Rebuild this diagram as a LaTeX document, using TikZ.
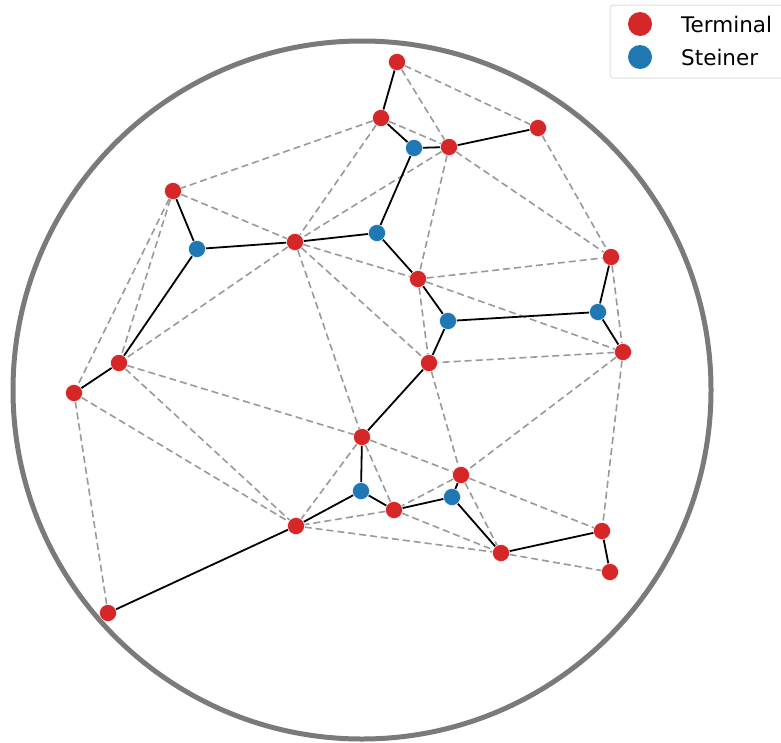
\documentclass[tikz,border=0pt]{standalone}
\usepackage{fontspec}
\setmainfont{DejaVu Sans}
\usetikzlibrary{backgrounds}
\definecolor{termred}{HTML}{D62728}
\definecolor{steinblue}{HTML}{1F77B4}
\definecolor{ringgray}{HTML}{7A7A7A}

\begin{document}
\begin{tikzpicture}[
    x=1pt, y=-1pt,
    terminal/.style={circle, fill=termred, draw=white, line width=0.4pt, minimum size=17pt, inner sep=0pt},
    steiner/.style={circle, fill=steinblue, draw=white, line width=0.4pt, minimum size=17pt, inner sep=0pt},
    tree/.style={line width=1.8pt, draw=black},
    cand/.style={line width=1.6pt, draw=gray!80, dash pattern=on 7pt off 4pt},
    legdot/.style={circle, minimum size=24pt, inner sep=0pt},
    legtext/.style={anchor=west, inner sep=0pt, font=\fontsize{21.5}{25}\selectfont}
  ]
  \useasboundingbox (0,0) rectangle (781,742);
  \draw[ringgray, line width=5pt] (362,390) circle (349);

  % terminals
  \node[terminal] (t1) at (397,62) {};
  \node[terminal] (t2) at (381,118) {};
  \node[terminal] (t3) at (449,147) {};
  \node[terminal] (t4) at (538,128) {};
  \node[terminal] (t5) at (173,191) {};
  \node[terminal] (t6) at (295,242) {};
  \node[terminal] (t7) at (418,279) {};
  \node[terminal] (t8) at (611,257) {};
  \node[terminal] (t9) at (623,352) {};
  \node[terminal] (t10) at (429,363) {};
  \node[terminal] (t11) at (119,363) {};
  \node[terminal] (t12) at (74,393) {};
  \node[terminal] (t13) at (362,437) {};
  \node[terminal] (t14) at (461,475) {};
  \node[terminal] (t15) at (394,510) {};
  \node[terminal] (t16) at (296,526) {};
  \node[terminal] (t17) at (602,531) {};
  \node[terminal] (t18) at (501,553) {};
  \node[terminal] (t19) at (610,572) {};
  \node[terminal] (t20) at (108,613) {};

  % steiner points
  \node[steiner] (s1) at (414,148) {};
  \node[steiner] (s2) at (197,249) {};
  \node[steiner] (s3) at (377,233) {};
  \node[steiner] (s4) at (448,321) {};
  \node[steiner] (s5) at (598,312) {};
  \node[steiner] (s6) at (361,491) {};
  \node[steiner] (s7) at (452,497) {};

  \begin{scope}[on background layer]
    % candidate edges
    \draw[cand] (t1) -- (t3);
    \draw[cand] (t1) -- (t4);
    \draw[cand] (t2) -- (t3);
    \draw[cand] (t2) -- (t5);
    \draw[cand] (t2) -- (t6);
    \draw[cand] (t3) -- (t6);
    \draw[cand] (t3) -- (t7);
    \draw[cand] (t3) -- (t8);
    \draw[cand] (t4) -- (t8);
    \draw[cand] (t5) -- (t6);
    \draw[cand] (t5) -- (t11);
    \draw[cand] (t5) -- (t12);
    \draw[cand] (t6) -- (t11);
    \draw[cand] (t6) -- (t7);
    \draw[cand] (t6) -- (t10);
    \draw[cand] (t6) -- (t13);
    \draw[cand] (t7) -- (t8);
    \draw[cand] (t7) -- (t9);
    \draw[cand] (t7) -- (t10);
    \draw[cand] (t8) -- (t9);
    \draw[cand] (t9) -- (t10);
    \draw[cand] (t9) -- (t14);
    \draw[cand] (t9) -- (t17);
    \draw[cand] (t10) -- (t14);
    \draw[cand] (t11) -- (t13);
    \draw[cand] (t11) -- (t16);
    \draw[cand] (t12) -- (t16);
    \draw[cand] (t12) -- (t20);
    \draw[cand] (t13) -- (t14);
    \draw[cand] (t13) -- (t15);
    \draw[cand] (t13) -- (t16);
    \draw[cand] (t14) -- (t15);
    \draw[cand] (t14) -- (t17);
    \draw[cand] (t14) -- (t18);
    \draw[cand] (t15) -- (t16);
    \draw[cand] (t15) -- (t18);
    \draw[cand] (t16) -- (t18);
    \draw[cand] (t18) -- (t19);

    % steiner tree
    \draw[tree] (t1) -- (t2);
    \draw[tree] (t2) -- (s1);
    \draw[tree] (s1) -- (t3);
    \draw[tree] (t3) -- (t4);
    \draw[tree] (s1) -- (s3);
    \draw[tree] (s3) -- (t6);
    \draw[tree] (s3) -- (t7);
    \draw[tree] (t6) -- (s2);
    \draw[tree] (s2) -- (t5);
    \draw[tree] (s2) -- (t11);
    \draw[tree] (t11) -- (t12);
    \draw[tree] (t7) -- (s4);
    \draw[tree] (s4) -- (s5);
    \draw[tree] (s5) -- (t8);
    \draw[tree] (s5) -- (t9);
    \draw[tree] (s4) -- (t10);
    \draw[tree] (t10) -- (t13);
    \draw[tree] (t13) -- (s6);
    \draw[tree] (s6) -- (t16);
    \draw[tree] (s6) -- (t15);
    \draw[tree] (t15) -- (s7);
    \draw[tree] (s7) -- (t14);
    \draw[tree] (s7) -- (t18);
    \draw[tree] (t18) -- (t17);
    \draw[tree] (t17) -- (t19);
    \draw[tree] (t16) -- (t20);
  \end{scope}

  % legend
  \draw[gray!25, fill=white, rounded corners=3pt, line width=1pt] (610,5) rectangle (790,78);
  \node[legdot, fill=termred] (legterm) at (640,24) {};
  \node[legdot, fill=steinblue] (legstein) at (640,57) {};
  \node[legtext] (legtermtxt) at (681,24) {Terminal};
  \node[legtext] (legsteintxt) at (681,57) {Steiner};
\end{tikzpicture}
\end{document}
